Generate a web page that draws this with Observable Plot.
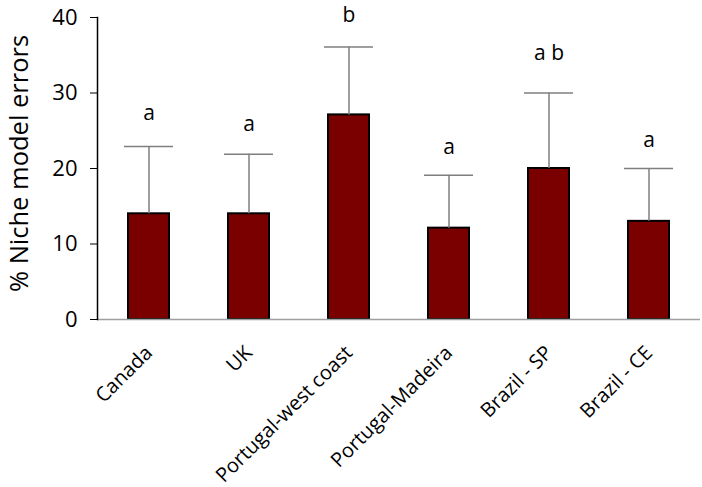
<!DOCTYPE html>
<html>
<head>
<meta charset="utf-8">
<script src="https://cdn.jsdelivr.net/npm/d3@7"></script>
<script src="https://cdn.jsdelivr.net/npm/@observablehq/plot@0.6"></script>
<style>
  html, body { margin: 0; padding: 0; background: #fff; }
  #chart { width: 702px; height: 487px; }
</style>
</head>
<body>
<div id="chart"></div>
<script>
const sites = ["Canada", "UK", "Portugal-west coast", "Portugal-Madeira", "Brazil - SP", "Brazil - CE"];
const means = [14, 14, 27.1, 12.1, 20, 13];
const errTops = [22.9, 21.9, 36.1, 19.1, 30, 20];
const letters = ["a", "a", "b", "a", "a b", "a"];
const letterY = [27.3, 25.8, 40.3, 22.8, 35.2, 23.8];
const yTicks = [0, 10, 20, 30, 40];

const data = sites.map((s, i) => ({site: s, mean: means[i], err: errTops[i], letter: letters[i], ly: letterY[i]}));

const font = "'Open Sans', sans-serif";

const plot = Plot.plot({
  width: 702,
  height: 487,
  marginLeft: 97,
  marginRight: 2,
  marginTop: 17,
  marginBottom: 168,
  style: {fontFamily: font, background: "#fff", color: "#000", overflow: "visible"},
  x: {domain: sites, paddingInner: 0.59, paddingOuter: 0.295, label: null},
  y: {domain: [0, 40], label: null},
  marks: [
    Plot.barY(data, {x: "site", y: "mean", fill: "#7a0000", stroke: "#000", strokeWidth: 2}),
    Plot.ruleX(data, {x: "site", y1: "mean", y2: "err", stroke: "#7f7f7f", strokeWidth: 1.5}),
    Plot.tickY(data, {x: "site", y: "err", stroke: "#7f7f7f", strokeWidth: 1.5, insetLeft: 45, insetRight: 45}),
    Plot.text(data, {x: "site", y: "ly", text: "letter", fontSize: 21, fill: "#000", clip: false}),
    Plot.ruleY([0], {stroke: "#a0a0a0", strokeWidth: 1.5}),
    Plot.frame({anchor: "left", stroke: "#000", strokeWidth: 1.5}),
    Plot.axisY({ticks: yTicks, tickSize: 7, tickPadding: 13, fontSize: 22, label: null, stroke: "#000"}),
    Plot.axisX({tickSize: 0, tickRotate: -45, tickPadding: 30, fontSize: 20, label: null}),
    Plot.text(["% Niche model errors"], {frameAnchor: "left", textAnchor: "middle", lineAnchor: "middle", dx: -78, dy: -5, rotate: -90, fontSize: 25.5, fill: "#000", text: d => d})
  ]
});
document.getElementById("chart").appendChild(plot);
</script>
</body>
</html>
